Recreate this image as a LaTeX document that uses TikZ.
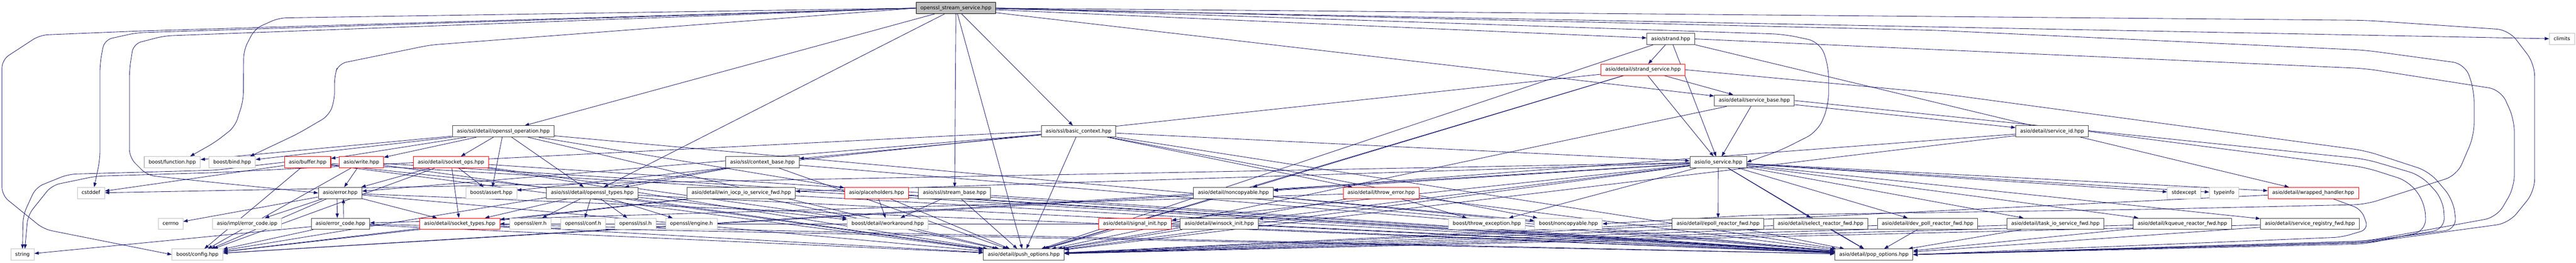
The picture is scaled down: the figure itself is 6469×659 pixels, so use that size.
\documentclass[tikz,border=0pt]{standalone}
\usepackage{fontspec}
\setmainfont{DejaVu Sans}
\usetikzlibrary{arrows.meta}
\definecolor{edgec}{HTML}{191970}
\definecolor{gryc}{HTML}{BFBFBF}
\definecolor{blkc}{HTML}{404040}
\pgfdeclarelayer{edgelayer}
\pgfsetlayers{edgelayer,main}
\tikzset{
  nd/.style={rectangle, draw, fill=white, line width=1.4pt, inner xsep=11pt, inner ysep=0pt,
    minimum height=28pt, text height=9.6pt, text depth=2.6pt, font=\fontsize{12.6pt}{15pt}\selectfont},
  blk/.style={nd, draw=blkc},
  gry/.style={nd, draw=gryc},
  redn/.style={nd, draw=red},
  topn/.style={nd, draw=black, fill=gryc},
  dep/.style={draw=edgec, line width=1.1pt, -{Triangle[length=11pt,width=8pt]}},
  rdep/.style={dep, rounded corners=30pt},
  ldep/.style={dep, rounded corners=20pt},
}
\begin{document}
\begin{tikzpicture}[x=1pt,y=-1pt]
\useasboundingbox (0,0) rectangle (6469,659);
% row 0
\node[topn] (top) at (2400.5,20.4) {openssl\_stream\_service.hpp};
% row 1
\node[blk] (strand) at (4195.6,97.7) {asio/strand.hpp};
\node[gry] (climits) at (6433.8,97.7) {climits};
% row 2
\node[redn] (strandsvc) at (4126,175) {asio/detail/strand\_service.hpp};
% row 3
\node[blk] (svcbase) at (4405.6,252.3) {asio/detail/service\_base.hpp};
% row 4
\node[blk] (sslop) at (1263.9,329.6) {asio/ssl/detail/openssl\_operation.hpp};
\node[blk] (basicctx) at (2708.6,329.6) {asio/ssl/basic\_context.hpp};
\node[blk] (svcid) at (5153.3,329.6) {asio/detail/service\_id.hpp};
% row 5
\node[gry] (function) at (432.6,406.9) {boost/function.hpp};
\node[gry] (bind) at (583,406.9) {boost/bind.hpp};
\node[redn] (buffer) at (772.5,406.9) {asio/buffer.hpp};
\node[redn] (write) at (907.6,406.9) {asio/write.hpp};
\node[redn] (sockops) at (1132.5,406.9) {asio/detail/socket\_ops.hpp};
\node[blk] (ctxbase) at (1914.6,406.9) {asio/ssl/context\_base.hpp};
\node[blk] (iosvc) at (4315,406.9) {asio/io\_service.hpp};
% row 6
\node[gry] (cstddef) at (228.5,484.2) {cstddef};
\node[blk] (error) at (854.3,484.2) {asio/error.hpp};
\node[gry] (assert) at (1233.8,484.2) {boost/assert.hpp};
\node[blk] (ssltypes) at (1487.3,484.2) {asio/ssl/detail/openssl\_types.hpp};
\node[blk] (winiocp) at (1861.5,484.2) {asio/detail/win\_iocp\_io\_service\_fwd.hpp};
\node[redn] (placeh) at (2201,484.2) {asio/placeholders.hpp};
\node[blk] (streambase) at (2397.3,484.2) {asio/ssl/stream\_base.hpp};
\node[blk] (noncopy) at (3097.3,484.2) {asio/detail/noncopyable.hpp};
\node[redn] (throwerr) at (3468.5,484.2) {asio/detail/throw\_error.hpp};
\node[gry] (stdexcept) at (5484.6,484.2) {stdexcept};
\node[gry] (typeinfo) at (5585.3,484.2) {typeinfo};
\node[redn] (wrapped) at (5809.3,484.2) {asio/detail/wrapped\_handler.hpp};
% row 7
\node[gry] (cerrno) at (428.4,561.5) {cerrno};
\node[gry] (ecipp) at (620.4,561.5) {asio/impl/error\_code.ipp};
\node[blk] (ec) at (855,561.5) {asio/error\_code.hpp};
\node[redn] (socktypes) at (1154.5,561.5) {asio/detail/socket\_types.hpp};
\node[gry] (err) at (1332,561.5) {openssl/err.h};
\node[gry] (conf) at (1464.2,561.5) {openssl/conf.h};
\node[gry] (sslh) at (1595.9,561.5) {openssl/ssl.h};
\node[gry] (engine) at (1736.5,561.5) {openssl/engine.h};
\node[gry] (workaround) at (2229.3,561.5) {boost/detail/workaround.hpp};
\node[redn] (siginit) at (2850.4,561.5) {asio/detail/signal\_init.hpp};
\node[blk] (winsock) at (3061.8,561.5) {asio/detail/winsock\_init.hpp};
\node[gry] (throwexc) at (3733.9,561.5) {boost/throw\_exception.hpp};
\node[gry] (bnoncopy) at (3938.6,561.5) {boost/noncopyable.hpp};
\node[blk] (epoll) at (4314.5,561.5) {asio/detail/epoll\_reactor\_fwd.hpp};
\node[blk] (select) at (4571.8,561.5) {asio/detail/select\_reactor\_fwd.hpp};
\node[blk] (devpoll) at (4840.6,561.5) {asio/detail/dev\_poll\_reactor\_fwd.hpp};
\node[blk] (taskio) at (5161.7,561.5) {asio/detail/task\_io\_service\_fwd.hpp};
\node[blk] (kqueue) at (5480.5,561.5) {asio/detail/kqueue\_reactor\_fwd.hpp};
\node[blk] (svcreg) at (5800.5,561.5) {asio/detail/service\_registry\_fwd.hpp};
% row 8
\node[gry] (string) at (56.5,638.8) {string};
\node[gry] (config) at (495.8,638.8) {boost/config.hpp};
\node[blk] (push) at (2571,638.8) {asio/detail/push\_options.hpp};
\node[blk] (pop) at (4705.8,638.8) {asio/detail/pop\_options.hpp};

\begin{pgfonlayer}{edgelayer}
\fill[white] (0,0) rectangle (6469,659);
\foreach \a/\b in {top/push, top/streambase, top/basicctx, top/strand, top/climits, top/svcbase, top/sslop, top/ssltypes,
  strand/iosvc, strand/strandsvc, strand/wrapped, strand/push,
  strandsvc/iosvc, strandsvc/svcbase, strandsvc/assert, strandsvc/noncopy, strandsvc/push,
  svcbase/iosvc, svcbase/svcid, svcbase/push,
  sslop/function, sslop/bind, sslop/buffer, sslop/write, sslop/sockops, sslop/assert, sslop/ssltypes, sslop/placeh, sslop/push, sslop/pop,
  basicctx/bnoncopy, basicctx/error, basicctx/iosvc, basicctx/ctxbase, basicctx/throwerr, basicctx/push, basicctx/pop,
  svcid/noncopy, svcid/push,
  buffer/cstddef, buffer/config, buffer/workaround, buffer/push, buffer/pop,
  write/error, write/config, write/push, write/pop,
  sockops/error, sockops/assert, sockops/socktypes, sockops/config, sockops/workaround, sockops/push, sockops/pop,
  ctxbase/ssltypes, ctxbase/config, ctxbase/push, ctxbase/pop,
  iosvc/cstddef, iosvc/stdexcept, iosvc/typeinfo, iosvc/config, iosvc/throwexc, iosvc/devpoll, iosvc/epoll, iosvc/kqueue,
  iosvc/noncopy, iosvc/select, iosvc/svcreg, iosvc/siginit, iosvc/taskio, iosvc/winiocp, iosvc/winsock, iosvc/wrapped, iosvc/push, iosvc/pop,
  error/ecipp, error/cerrno, error/config, error/socktypes, error/push, error/pop,
  ssltypes/err, ssltypes/conf, ssltypes/sslh, ssltypes/engine, ssltypes/socktypes, ssltypes/push, ssltypes/pop,
  winiocp/config, winiocp/socktypes, winiocp/push, winiocp/pop,
  placeh/workaround, placeh/push, placeh/pop,
  streambase/workaround, streambase/push, streambase/pop,
  noncopy/bnoncopy, noncopy/config, noncopy/push, noncopy/pop,
  throwerr/throwexc, throwerr/ec, throwerr/push, throwerr/pop,
  wrapped/push,
  ec/string, ec/config, ec/push, ec/pop,
  socktypes/config, socktypes/push, socktypes/pop,
  siginit/push, siginit/pop,
  winsock/socktypes, winsock/push, winsock/pop,
  epoll/push, epoll/pop, select/push, select/pop, devpoll/push, devpoll/pop,
  taskio/push, taskio/pop, kqueue/push, kqueue/pop, svcreg/push, svcreg/pop}
  \draw[dep] (\a) -- (\b);
% error <-> error_code
\draw[dep] ([xshift=-8pt]error.south) -- ([xshift=-8pt]ec.north);
\draw[dep] ([xshift=8pt]ec.north) -- ([xshift=8pt]error.south);
% left detours from the top node
\draw[ldep] (top.west) -- (344,78) -- (100,88) -- (5,150) -- (5,490) -- (110,575) -- (config.west);
\draw[ldep] (top.west) -- (344,82) -- (262,100) -- (251,160) -- (251,400) -- ([xshift=8pt]cstddef.north);
\draw[ldep] (top.west) -- (413,90) -- (335,110) -- (325,175) -- (325,395) -- (370,440) -- (540,458) -- (error.west);
\draw[ldep] (top.west) -- (700,45) -- (640,72) -- (612,126) -- (611,252) -- (590,318) -- (540,357) -- ([xshift=45pt]function.north);
\draw[ldep] (top.west) -- (1080,113) -- (850,160) -- (840,190) -- (840,252) -- (826,290) -- (747,336) -- ([xshift=45pt]bind.north);
% curves into string
\draw[ldep] (buffer.west) -- (540,427) -- (172,437) -- (90,470) -- (58,540) -- (string.north);
\draw[ldep] (basicctx.west) -- (540,433) -- (241,442) -- (130,465) -- (70,540) -- ([xshift=6pt]string.north);
% right detours
\draw[rdep] (top.east) -- (4480,86) -- (4570,105) -- (4592,165) -- (4592,265) -- (4565,330) -- (4470,378) -- (iosvc.east);
\draw[rdep] (top.east) -- (5940,51) -- (6300,75) -- (6365,160) -- (6365,480) -- (6300,560) -- (5940,609) -- (pop.east);
\draw[rdep] (strand.east) -- (5940,172) -- (6280,225) -- (6314,300) -- (6314,470) -- (6270,545) -- (5940,605) -- (pop.east);
\draw[rdep] (top.east) -- (4860,76) -- (5940,126) -- (6190,160) -- (6213,225) -- (6213,340) -- (6170,440) -- (5940,513) -- (5400,525) -- (4400,540) -- (bnoncopy.east);
\draw[rdep] (strandsvc.east) -- (4860,233) -- (5940,378) -- (6100,430) -- (6160,500) -- (6170,575) -- (5940,605) -- (pop.east);
\draw[rdep] (svcbase.east) -- (5940,399) -- (6080,440) -- (6135,500) -- (6140,575) -- (5940,608) -- (pop.east);
\draw[rdep] (svcid.east) -- (5940,420) -- (6050,455) -- (6090,510) -- (6092,580) -- (5940,612) -- (pop.east);
\draw[dep, rounded corners=20pt] ([xshift=50pt]wrapped.south) -- (5930,525) -- (5948,575) -- (5880,595) -- (pop.east);
\end{pgfonlayer}
\end{tikzpicture}
\end{document}
